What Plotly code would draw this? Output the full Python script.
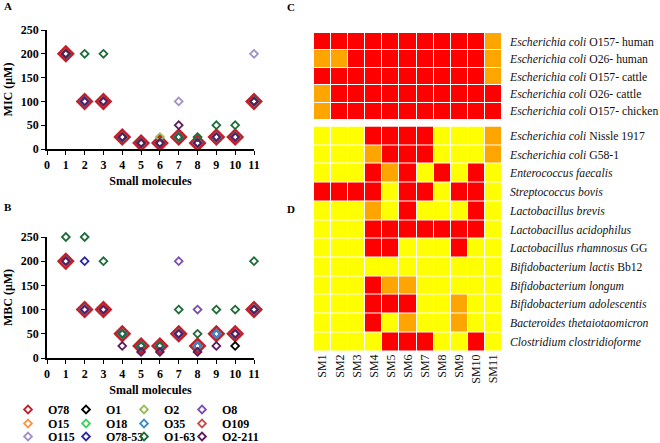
import plotly.graph_objects as go

# ---------------- data ----------------
molecules = list(range(1, 12))
strains = ["O78", "O1", "O2", "O8", "O15", "O18", "O35", "O109",
           "O115", "O78-53", "O1-63", "O2-211"]
strain_colors = {
    "O78": "#c0202a", "O1": "#000000", "O2": "#9bbb59", "O8": "#7b4fb0",
    "O15": "#f79646", "O18": "#3fcf5f", "O35": "#3c8dc4", "O109": "#c0504d",
    "O115": "#a092c8", "O78-53": "#2b2ba0", "O1-63": "#1f6b3a", "O2-211": "#5c1a5c",
}

mic = {
    "O78":    [200, 100, 100, 25, 12.5, 12.5, 25, 12.5, 25, 25, 100],
    "O1":     [200, 100, 100, 25, 12.5, 12.5, 25, 12.5, 25, 25, 100],
    "O2":     [200, 100, 100, 25, 12.5, 25, 25, 12.5, 25, 25, 100],
    "O8":     [200, 100, 100, 25, 12.5, 12.5, 25, 12.5, 25, 25, 100],
    "O15":    [200, 100, 100, 25, 12.5, 12.5, 25, 12.5, 25, 25, 100],
    "O18":    [200, 100, 100, 25, 12.5, 12.5, 25, 12.5, 25, 25, 100],
    "O35":    [200, 100, 100, 25, 12.5, 12.5, 25, 12.5, 25, 25, 100],
    "O109":   [200, 100, 100, 25, 12.5, 12.5, 25, 12.5, 25, 25, 100],
    "O115":   [200, 100, 100, 25, 12.5, 12.5, 100, 12.5, 25, 25, 200],
    "O78-53": [200, 100, 100, 25, 12.5, 12.5, 25, 12.5, 25, 25, 100],
    "O1-63":  [200, 200, 200, 25, 12.5, 12.5, 25, 25, 50, 50, 100],
    "O2-211": [200, 100, 100, 25, 12.5, 12.5, 50, 12.5, 25, 25, 100],
}
mbc = {
    "O78":    [200, 100, 100, 50, 25, 25, 50, 25, 50, 50, 100],
    "O1":     [200, 100, 100, 50, 25, 25, 50, 25, 50, 25, 100],
    "O2":     [200, 100, 100, 50, 25, 25, 50, 25, 50, 50, 100],
    "O8":     [200, 100, 100, 50, 25, 25, 200, 100, 50, 50, 100],
    "O15":    [200, 100, 100, 50, 25, 25, 50, 25, 50, 50, 100],
    "O18":    [200, 100, 100, 50, 25, 25, 50, 25, 50, 50, 100],
    "O35":    [200, 100, 100, 50, 25, 25, 50, 25, 50, 50, 100],
    "O109":   [200, 100, 100, 50, 25, 25, 50, 25, 50, 50, 100],
    "O115":   [200, 100, 100, 50, 25, 25, 50, 25, 50, 50, 100],
    "O78-53": [200, 200, 100, 50, 25, 25, 50, 25, 50, 50, 100],
    "O1-63":  [250, 250, 200, 50, 25, 25, 100, 50, 100, 100, 200],
    "O2-211": [200, 100, 100, 25, 12.5, 12.5, 50, 12.5, 25, 50, 100],
}

sm_labels = ["SM%d" % i for i in range(1, 12)]
pathogen_rows = [
    "<i>Escherichia coli</i> O157- human",
    "<i>Escherichia coli</i> O26- human",
    "<i>Escherichia coli</i> O157- cattle",
    "<i>Escherichia coli</i> O26- cattle",
    "<i>Escherichia coli</i> O157- chicken",
]
# 0 = yellow, 1 = orange, 2 = red
pathogen_levels = [
    [2, 2, 2, 2, 2, 2, 2, 2, 2, 2, 1],
    [1, 1, 2, 2, 2, 2, 2, 2, 2, 2, 1],
    [2, 2, 2, 2, 2, 2, 2, 2, 2, 2, 1],
    [1, 2, 2, 2, 2, 2, 2, 2, 2, 2, 2],
    [1, 2, 2, 2, 2, 2, 2, 2, 2, 2, 2],
]
commensal_rows = [
    "<i>Escherichia coli</i> Nissle 1917",
    "<i>Escherichia coli</i> G58-1",
    "<i>Enterococcus faecalis</i>",
    "<i>Streptococcus bovis</i>",
    "<i>Lactobacillus brevis</i>",
    "<i>Lactobacillus acidophilus</i>",
    "<i>Lactobacillus rhamnosus</i> GG",
    "<i>Bifidobacterium lactis</i> Bb12",
    "<i>Bifidobacterium longum</i>",
    "<i>Bifidobacterium adolescentis</i>",
    "<i>Bacteroides thetaiotaomicron</i>",
    "<i>Clostridium clostridioforme</i>",
]
commensal_levels = [
    [0, 0, 0, 2, 2, 2, 2, 0, 0, 0, 1],
    [0, 0, 0, 1, 2, 2, 2, 0, 0, 0, 1],
    [0, 0, 0, 2, 1, 2, 0, 2, 0, 2, 0],
    [2, 2, 2, 2, 0, 2, 2, 0, 2, 2, 0],
    [0, 0, 0, 1, 0, 2, 0, 0, 0, 2, 0],
    [0, 0, 0, 2, 2, 2, 2, 2, 2, 2, 0],
    [0, 0, 0, 2, 2, 0, 0, 0, 2, 0, 0],
    [0, 0, 0, 0, 0, 0, 0, 0, 0, 0, 0],
    [0, 0, 0, 2, 1, 1, 0, 0, 0, 0, 0],
    [0, 0, 0, 2, 2, 2, 0, 0, 1, 0, 0],
    [0, 0, 0, 2, 0, 1, 0, 0, 1, 0, 0],
    [0, 0, 0, 0, 2, 2, 2, 0, 0, 2, 0],
]

# ---------------- figure ----------------
W, H = 660, 443
SERIF = "Liberation Serif, Times New Roman, serif"
fig = go.Figure()

draw_order = ["O78", "O1", "O2", "O8", "O15", "O18", "O109", "O115",
              "O78-53", "O35", "O1-63", "O2-211"]
legend_of = {s: ["legend", "legend2", "legend3"][i // 4] for i, s in enumerate(strains)}
last_col = {s for i, s in enumerate(strains) if i % 4 == 3}
SMALL, BIG = 6, 11

for s in draw_order:
    big = (s == "O78")
    for panel, data, xa, ya in (("A", mic, "x", "y"), ("B", mbc, "x2", "y2")):
        fig.add_trace(go.Scatter(
            x=molecules, y=data[s], mode="markers", name=s,
            xaxis=xa, yaxis=ya, cliponaxis=False,
            legendgroup=s, showlegend=(panel == "A" and not big),
            legend=legend_of[s], legendrank=strains.index(s) + 1,
            legendwidth=50 if s in last_col else None,
            marker=dict(symbol="diamond-open", size=BIG if big else SMALL,
                        color=strain_colors[s],
                        line=dict(width=2.6 if big else 1.8, color=strain_colors[s])),
        ))

# legend entry for O78 with the same symbol size as the others
fig.add_trace(go.Scatter(
    x=[None], y=[None], mode="markers", name="O78", xaxis="x", yaxis="y",
    legendgroup="O78", showlegend=True, legend="legend", legendrank=1,
    marker=dict(symbol="diamond-open", size=SMALL, color=strain_colors["O78"],
                line=dict(width=1.8, color=strain_colors["O78"])),
))

cscale = [[0, "#FFFF00"], [0.33, "#FFFF00"], [0.33, "#FFA500"], [0.67, "#FFA500"],
          [0.67, "#FF0000"], [1, "#FF0000"]]
fig.add_trace(go.Heatmap(z=pathogen_levels, x=sm_labels, y=pathogen_rows,
                         xaxis="x3", yaxis="y3", zmin=0, zmax=2, colorscale=cscale,
                         showscale=False, xgap=1, ygap=1, hoverinfo="skip"))
fig.add_trace(go.Heatmap(z=commensal_levels, x=sm_labels, y=commensal_rows,
                         xaxis="x4", yaxis="y4", zmin=0, zmax=2, colorscale=cscale,
                         showscale=False, xgap=1, ygap=1, hoverinfo="skip"))

def px_x(a, b):
    return [a / W, b / W]

def px_y(top, bottom):
    return [(H - bottom) / H, (H - top) / H]

tick_font = dict(family=SERIF, size=12, color="black", weight="bold")
title_font = dict(family=SERIF, size=12, color="black", weight="bold")
scatter_x = dict(range=[0, 11], dtick=1, tick0=0, showline=True, linecolor="black",
                 linewidth=1.5, ticks="outside", ticklen=4, tickwidth=1.2,
                 tickcolor="black", showgrid=False, zeroline=False, tickfont=tick_font,
                 automargin=False,
                 title=dict(text="Small molecules", font=title_font, standoff=5))
scatter_y = dict(range=[0, 250], dtick=50, showline=True, linecolor="black",
                 linewidth=1.5, ticks="outside", ticklen=4, tickwidth=1.2,
                 tickcolor="black", showgrid=False, zeroline=False, tickfont=tick_font,
                 automargin=False)
heat_y_font = dict(family=SERIF, size=11.7, color="#111")

fig.update_layout(
    width=W, height=H, margin=dict(l=0, r=0, t=0, b=0, autoexpand=False),
    paper_bgcolor="white", plot_bgcolor="white",
    xaxis=dict(domain=px_x(47, 254), anchor="y", **scatter_x),
    yaxis=dict(domain=px_y(30, 149), anchor="x",
               title=dict(text="MIC (μM)", font=title_font, standoff=6), **scatter_y),
    xaxis2=dict(domain=px_x(47, 254), anchor="y2", **scatter_x),
    yaxis2=dict(domain=px_y(237, 358), anchor="x2",
                title=dict(text="MBC (μM)", font=title_font, standoff=6), **scatter_y),
    xaxis3=dict(domain=px_x(314, 502), anchor="y3", showticklabels=False, ticks="",
                showgrid=False, zeroline=False, showline=False, automargin=False),
    yaxis3=dict(domain=px_y(33, 120), anchor="x3", side="right", autorange="reversed",
                ticks="", showgrid=False, zeroline=False, showline=False,
                ticklabelstandoff=7, automargin=False, tickfont=heat_y_font),
    xaxis4=dict(domain=px_x(314, 502), anchor="y4", tickangle=-90, ticks="",
                showgrid=False, zeroline=False, showline=False, automargin=False,
                tickfont=dict(family=SERIF, size=12, color="#111")),
    yaxis4=dict(domain=px_y(126.5, 351), anchor="x4", side="right", autorange="reversed",
                ticks="", showgrid=False, zeroline=False, showline=False,
                ticklabelstandoff=7, automargin=False, tickfont=heat_y_font),
    showlegend=True,
)

leg_common = dict(orientation="h", xanchor="left", yanchor="top", entrywidth=13,
                  entrywidthmode="pixels", itemwidth=30, bgcolor="rgba(0,0,0,0)",
                  font=dict(family=SERIF, size=12, color="black", weight="bold"),
                  tracegroupgap=0, traceorder="normal", itemclick=False)
fig.update_layout(
    legend=dict(x=8 / W, y=1 - 395 / H, **leg_common),
    legend2=dict(x=8 / W, y=1 - 409 / H, **leg_common),
    legend3=dict(x=8 / W, y=1 - 422 / H, **leg_common),
)

for txt, x, y in (("A", 8, 6), ("B", 8, 207), ("C", 291, 7), ("D", 291, 209)):
    fig.add_annotation(text="<b>%s</b>" % txt, x=x / W, y=1 - y / H, xref="paper",
                       yref="paper", showarrow=False, xanchor="center", yanchor="middle",
                       font=dict(family=SERIF, size=11, color="black"))

fig.write_html("out.html", config={"displayModeBar": False},
               post_script="document.body.style.margin='0px';")
